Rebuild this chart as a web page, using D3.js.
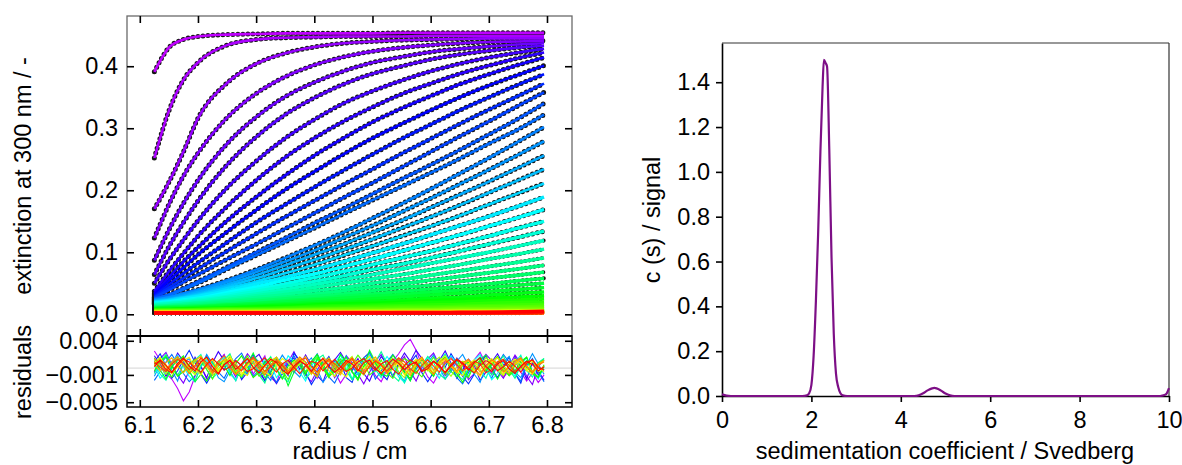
<!DOCTYPE html>
<html>
<head>
<meta charset="utf-8">
<script src="https://cdn.jsdelivr.net/npm/d3@7"></script>
<style>
  body { margin: 0; background: #fff; }
  text { font-family: "Liberation Sans", Arial, sans-serif; }
</style>
</head>
<body>
<script>
// radial positions of the tabulated scan values (cm)
const radius = [6.125, 6.15, 6.175, 6.2, 6.25, 6.3, 6.35, 6.4, 6.45, 6.5, 6.55, 6.6, 6.65, 6.7, 6.75, 6.795];

// extinction at 300 nm, one row per scan (first scan on top)
const scans = [
  [0.391,0.430,0.443,0.448,0.451,0.452,0.453,0.453,0.453,0.453,0.454,0.454,0.454,0.454,0.454,0.454],
  [0.252,0.328,0.378,0.406,0.434,0.443,0.446,0.447,0.448,0.448,0.448,0.449,0.449,0.449,0.449,0.449],
  [0.170,0.213,0.262,0.316,0.373,0.404,0.421,0.431,0.437,0.440,0.442,0.443,0.444,0.445,0.445,0.445],
  [0.123,0.177,0.223,0.260,0.317,0.356,0.383,0.402,0.415,0.424,0.430,0.434,0.437,0.439,0.440,0.441],
  [0.087,0.136,0.179,0.216,0.275,0.318,0.351,0.374,0.392,0.406,0.415,0.423,0.428,0.432,0.435,0.437],
  [0.064,0.109,0.148,0.183,0.241,0.286,0.322,0.349,0.371,0.388,0.400,0.411,0.419,0.425,0.430,0.433],
  [0.050,0.087,0.120,0.151,0.204,0.247,0.284,0.314,0.340,0.360,0.377,0.392,0.404,0.414,0.422,0.428],
  [0.037,0.069,0.098,0.126,0.174,0.216,0.253,0.284,0.311,0.334,0.355,0.372,0.388,0.401,0.413,0.422],
  [0.034,0.060,0.085,0.108,0.151,0.189,0.224,0.256,0.284,0.310,0.332,0.352,0.371,0.387,0.402,0.414],
  [0.032,0.054,0.075,0.096,0.133,0.168,0.201,0.230,0.258,0.284,0.307,0.329,0.350,0.369,0.386,0.401],
  [0.030,0.048,0.066,0.083,0.116,0.148,0.177,0.205,0.232,0.258,0.283,0.306,0.329,0.350,0.370,0.387],
  [0.028,0.043,0.058,0.073,0.102,0.130,0.157,0.183,0.209,0.234,0.259,0.283,0.307,0.330,0.352,0.372],
  [0.027,0.039,0.052,0.064,0.089,0.113,0.138,0.163,0.188,0.212,0.237,0.262,0.287,0.311,0.336,0.358],
  [0.026,0.032,0.042,0.053,0.076,0.100,0.123,0.147,0.170,0.194,0.218,0.241,0.265,0.290,0.315,0.340],
  [0.025,0.031,0.040,0.050,0.073,0.095,0.117,0.139,0.162,0.184,0.206,0.228,0.251,0.275,0.298,0.322],
  [0.024,0.028,0.034,0.040,0.055,0.072,0.091,0.111,0.132,0.155,0.178,0.202,0.227,0.252,0.278,0.302],
  [0.023,0.027,0.032,0.038,0.052,0.068,0.085,0.103,0.123,0.143,0.165,0.187,0.210,0.233,0.257,0.279],
  [0.022,0.025,0.030,0.036,0.048,0.063,0.079,0.096,0.113,0.132,0.151,0.172,0.193,0.214,0.236,0.256],
  [0.021,0.024,0.028,0.033,0.045,0.058,0.073,0.088,0.104,0.121,0.139,0.157,0.176,0.196,0.216,0.234],
  [0.020,0.023,0.027,0.031,0.042,0.053,0.066,0.080,0.095,0.110,0.126,0.142,0.159,0.177,0.195,0.211],
  [0.019,0.021,0.025,0.029,0.038,0.049,0.060,0.072,0.085,0.099,0.113,0.128,0.143,0.158,0.174,0.189],
  [0.018,0.020,0.023,0.026,0.035,0.044,0.055,0.065,0.077,0.089,0.102,0.115,0.128,0.142,0.156,0.169],
  [0.017,0.019,0.022,0.025,0.032,0.040,0.049,0.059,0.069,0.080,0.091,0.102,0.114,0.126,0.139,0.150],
  [0.016,0.018,0.020,0.023,0.029,0.037,0.045,0.053,0.062,0.072,0.081,0.091,0.102,0.113,0.124,0.134],
  [0.015,0.017,0.019,0.021,0.027,0.033,0.040,0.048,0.056,0.064,0.073,0.082,0.091,0.100,0.110,0.119],
  [0.014,0.015,0.017,0.019,0.024,0.030,0.036,0.043,0.050,0.057,0.064,0.072,0.080,0.089,0.097,0.105],
  [0.013,0.014,0.016,0.018,0.022,0.027,0.032,0.038,0.043,0.050,0.056,0.063,0.070,0.077,0.084,0.091],
  [0.012,0.013,0.014,0.016,0.020,0.024,0.028,0.033,0.038,0.044,0.049,0.055,0.061,0.067,0.073,0.079],
  [0.011,0.012,0.013,0.014,0.017,0.021,0.025,0.029,0.033,0.038,0.043,0.047,0.053,0.058,0.063,0.068],
  [0.010,0.011,0.012,0.013,0.015,0.018,0.022,0.025,0.029,0.033,0.037,0.041,0.045,0.049,0.054,0.058],
  [0.010,0.011,0.011,0.012,0.015,0.017,0.020,0.023,0.026,0.029,0.032,0.036,0.039,0.043,0.047,0.050],
  [0.009,0.010,0.010,0.011,0.013,0.015,0.017,0.020,0.022,0.025,0.028,0.031,0.034,0.037,0.040,0.043],
  [0.008,0.008,0.009,0.010,0.011,0.013,0.015,0.017,0.019,0.021,0.023,0.026,0.028,0.031,0.034,0.036],
  [0.008,0.008,0.009,0.009,0.010,0.012,0.013,0.015,0.017,0.018,0.020,0.022,0.024,0.026,0.028,0.030],
  [0.007,0.007,0.008,0.008,0.009,0.010,0.011,0.013,0.014,0.015,0.017,0.019,0.020,0.022,0.023,0.025],
  [0.007,0.007,0.007,0.008,0.009,0.009,0.010,0.011,0.012,0.013,0.014,0.015,0.016,0.018,0.019,0.020],
  [0.006,0.006,0.006,0.007,0.007,0.008,0.008,0.009,0.010,0.011,0.012,0.012,0.013,0.014,0.015,0.016],
  [0.006,0.006,0.006,0.006,0.007,0.007,0.008,0.008,0.009,0.009,0.010,0.010,0.011,0.012,0.012,0.013],
  [0.005,0.005,0.005,0.005,0.006,0.006,0.006,0.007,0.007,0.007,0.008,0.008,0.009,0.009,0.010,0.010],
  [0.005,0.005,0.005,0.005,0.005,0.005,0.006,0.006,0.006,0.006,0.007,0.007,0.007,0.007,0.008,0.008],
  [0.004,0.004,0.004,0.004,0.004,0.005,0.005,0.005,0.005,0.005,0.005,0.005,0.006,0.006,0.006,0.006],
  [0.004,0.004,0.004,0.004,0.004,0.004,0.004,0.004,0.004,0.005,0.005,0.005,0.005,0.005,0.005,0.005],
  [0.004,0.004,0.004,0.004,0.004,0.004,0.004,0.004,0.004,0.004,0.004,0.004,0.005,0.005,0.005,0.005],
  [0.003,0.003,0.004,0.004,0.004,0.004,0.004,0.004,0.004,0.004,0.004,0.004,0.004,0.004,0.005,0.005],
  [0.003,0.003,0.003,0.003,0.003,0.003,0.003,0.003,0.003,0.003,0.004,0.004,0.004,0.004,0.004,0.004],
  [0.003,0.003,0.003,0.003,0.003,0.003,0.003,0.003,0.003,0.003,0.003,0.003,0.004,0.004,0.004,0.004],
  [0.003,0.003,0.003,0.003,0.003,0.003,0.003,0.003,0.003,0.003,0.003,0.003,0.003,0.003,0.003,0.003],
  [0.003,0.003,0.003,0.003,0.003,0.003,0.003,0.003,0.003,0.003,0.003,0.003,0.003,0.003,0.004,0.004],
  [0.003,0.003,0.003,0.003,0.003,0.003,0.003,0.003,0.003,0.003,0.003,0.003,0.003,0.003,0.003,0.003],
  [0.003,0.003,0.003,0.003,0.003,0.003,0.003,0.003,0.003,0.003,0.003,0.003,0.003,0.003,0.003,0.004],
  [0.002,0.002,0.002,0.002,0.003,0.003,0.003,0.003,0.003,0.003,0.003,0.003,0.003,0.003,0.003,0.003],
  [0.002,0.002,0.002,0.002,0.002,0.002,0.002,0.002,0.003,0.003,0.003,0.003,0.003,0.003,0.003,0.003],
  [0.002,0.002,0.002,0.002,0.002,0.002,0.002,0.002,0.002,0.002,0.003,0.003,0.003,0.003,0.003,0.003],
  [0.002,0.002,0.002,0.002,0.002,0.002,0.002,0.002,0.002,0.002,0.002,0.002,0.003,0.003,0.003,0.003],
  [0.002,0.002,0.002,0.002,0.002,0.002,0.002,0.002,0.002,0.002,0.002,0.002,0.002,0.002,0.003,0.003],
  [0.002,0.002,0.002,0.002,0.002,0.002,0.002,0.002,0.002,0.002,0.002,0.002,0.002,0.002,0.002,0.003],
  [0.002,0.002,0.002,0.002,0.002,0.002,0.002,0.002,0.002,0.002,0.002,0.002,0.002,0.003,0.003,0.004],
  [0.002,0.002,0.002,0.002,0.002,0.002,0.002,0.002,0.002,0.002,0.002,0.002,0.003,0.003,0.004,0.005]
];

// residual sample positions (cm)
const residRadius = [6.125,6.135,6.145,6.155,6.165,6.175,6.185,6.195,6.205,6.215,6.225,6.235,6.245,6.255,6.265,6.275,6.285,6.295,6.305,6.315,6.325,6.335,6.345,6.355,6.365,6.375,6.385,6.395,6.405,6.415,6.425,6.435,6.445,6.455,6.465,6.475,6.485,6.495,6.505,6.515,6.525,6.535,6.545,6.555,6.565,6.575,6.585,6.595,6.605,6.615,6.625,6.635,6.645,6.655,6.665,6.675,6.685,6.695,6.705,6.715,6.725,6.735,6.745,6.755,6.765,6.775,6.785,6.795];

// residuals in units of 0.001, for a selection of scans
const residScan1 = [2.5,1.2,-0.8,-1.6,-3.0,-4.8,-3.5,-1.2,0.8,1.5,-0.4,0.9,2.0,-0.6,-1.8,0.3,1.4,-0.9,0.5,1.8,-1.4,-2.1,0.2,1.1,-0.7,0.6,1.9,-0.3,-1.5,0.8,1.6,-0.5,-2.2,-0.9,0.7,1.3,-0.4,0.9,-1.1,-2.0,-0.2,1.0,2.1,3.4,4.2,2.6,0.4,-1.3,-2.2,-0.6,1.0,1.7,0.3,-1.2,-0.4,1.2,2.3,0.6,-0.8,0.9,-1.4,-0.3,1.1,-0.6,-1.9,-0.7,-2.1,-1.0];
const residScan4 = [-0.6,1.4,2.3,0.5,-1.0,-2.2,-0.4,1.1,0.3,-1.6,-0.9,0.8,1.9,0.2,-1.3,0.6,2.1,1.0,-0.7,-1.8,0.4,1.5,-0.2,0.9,2.4,0.7,-1.0,-2.0,-0.3,1.2,0.5,-1.4,0.2,1.8,0.8,-0.9,-2.3,-0.6,1.0,2.0,0.3,-1.2,0.6,1.7,-0.5,-1.9,0.1,1.3,2.2,0.4,-1.1,-0.2,1.5,0.6,-1.7,-0.8,0.9,2.0,1.1,-0.4,-1.5,0.3,1.9,0.7,-1.2,-2.4,0.2,1.2];
const residScan7 = [1.8,0.6,-1.2,0.4,2.2,1.0,-0.5,1.6,0.2,-1.4,0.8,2.4,1.1,-0.3,0.9,-1.7,-0.6,1.3,2.0,0.4,-1.0,-2.3,-0.8,0.7,1.5,-0.2,1.9,0.5,-1.1,-2.0,0.3,1.2,2.3,0.9,-0.4,1.4,-0.8,-1.9,0.1,1.7,0.6,-1.3,0.8,2.2,1.0,2.6,1.4,0.2,-0.9,1.1,2.5,0.7,-1.5,-0.3,1.3,0.4,-1.8,-0.6,0.9,2.1,0.5,-1.0,1.6,0.3,-1.6,0.8,-0.4,-1.8];
const residScan12 = [0.9,2.1,0.3,-1.5,-0.4,1.2,2.6,0.8,-0.9,-2.2,-0.7,1.0,-0.3,1.8,0.4,-1.6,0.6,2.0,-0.1,-1.9,-0.5,1.3,0.2,-1.1,2.2,1.1,-0.6,-2.4,-1.0,0.5,1.7,-0.2,0.9,-1.4,-2.1,0.3,1.5,2.3,0.6,-0.8,-1.7,0.4,1.2,-0.5,0.8,1.9,-0.7,-2.0,-0.6,1.4,0.1,2.1,0.7,-1.2,-2.3,-0.9,0.6,1.8,-0.1,-1.4,0.3,1.6,-0.8,-2.2,0.5,1.3,-1.0,-0.2];
const residScan15 = [-1.8,-0.5,0.9,2.0,0.6,-0.8,-2.0,-1.1,0.4,1.7,0.9,-0.6,-1.5,0.2,1.4,2.2,0.5,-1.2,-0.3,1.0,-0.7,-2.1,-0.9,0.6,1.8,0.3,-1.0,0.8,2.1,0.4,-1.3,-2.2,-0.5,1.1,0.2,-0.9,1.5,0.7,-1.6,-0.4,0.9,2.0,0.8,-0.6,-1.8,-0.2,1.2,0.4,-1.1,0.6,1.9,0.3,-1.4,-2.3,-0.7,0.8,1.6,-0.1,-1.5,0.5,2.0,0.9,-0.8,-1.9,0.3,1.4,-0.6,-2.0];
const residScan17 = [-1.2,0.5,1.6,-0.3,-1.9,0.8,1.4,-0.6,0.2,2.0,0.6,-1.4,-2.0,-0.4,1.1,0.3,-1.0,1.7,0.9,-0.7,-1.8,0.4,1.9,0.7,-0.5,-1.3,0.6,1.5,-0.2,-2.1,-0.8,1.0,0.2,1.8,-0.6,-1.5,0.9,2.2,0.5,-1.1,-0.3,1.4,-0.9,-1.9,0.7,1.2,-0.4,0.8,1.9,0.1,-1.6,-0.5,1.0,2.0,0.4,-0.9,-2.1,0.2,1.3,-0.3,0.9,1.7,-0.6,-1.4,0.5,2.1,0.6,-0.9];
const residScan22 = [0.4,-1.5,-0.6,1.0,1.9,0.2,-1.2,-2.0,0.3,1.1,-0.4,0.8,1.6,-0.9,-1.7,0.5,1.3,0.1,-0.8,1.5,0.6,-1.4,-0.2,1.8,0.9,-0.6,-1.9,0.4,1.2,0.3,-1.0,0.7,1.9,-0.1,-1.6,-0.7,0.8,1.4,-0.5,0.3,1.7,0.5,-1.3,-2.1,-0.4,1.0,0.2,1.6,-0.3,-1.5,0.6,1.8,0.7,-1.0,-0.4,1.2,2.0,0.1,-1.7,-0.8,0.9,0.3,-1.2,0.6,1.5,-0.5,-1.6,0.2];
const residScan25 = [0.7,-0.9,-1.8,0.1,1.5,0.6,-0.7,1.2,2.0,-0.2,-1.5,-0.6,0.8,-0.4,-1.9,0.3,1.4,0.9,-0.8,0.5,1.7,-0.1,-1.3,-2.0,0.2,1.0,-0.5,0.7,1.9,0.4,-1.1,-0.3,1.3,0.6,-1.6,-0.8,0.9,1.8,-0.2,-1.4,0.4,1.2,-0.6,-2.2,-0.4,0.8,1.5,0.2,-1.2,0.9,2.1,0.5,-0.9,-1.7,0.1,1.1,-0.3,-1.5,0.6,1.6,0.2,-1.0,0.8,1.9,-0.4,-1.3,0.5,1.4];
const residScan27 = [-0.8,1.0,2.0,0.3,-1.1,0.6,-0.5,-1.8,0.2,1.4,0.8,-0.7,1.2,2.1,-0.2,-1.4,-0.3,0.9,-1.0,-2.2,0.1,1.6,0.5,-0.9,1.1,0.4,-1.5,-0.6,1.3,1.9,0.2,-1.2,0.7,-0.4,-1.7,0.5,1.5,-0.1,0.9,2.4,0.6,-1.1,-1.9,0.3,1.0,-0.6,0.4,1.7,0.8,-0.9,-1.6,0.2,1.3,-0.3,-1.2,0.7,1.6,0.1,-1.0,0.5,1.8,-0.2,-1.5,0.4,1.1,-0.7,0.8,1.4];
const residScan32 = [1.5,-0.3,-1.6,0.2,1.1,1.8,-0.4,-2.0,-0.9,0.7,1.3,-0.5,0.4,1.6,-0.8,-1.3,0.6,2.2,0.3,-1.4,-0.7,1.0,-0.2,-2.6,-0.6,1.2,0.5,-0.9,1.4,0.7,-1.1,-0.3,2.0,0.8,-0.6,-1.5,0.3,2.6,0.9,-0.8,-1.2,0.5,1.1,-0.4,-1.9,0.2,1.3,0.6,-1.0,0.8,1.7,-0.5,-1.3,0.4,0.9,-0.7,1.2,1.9,-0.2,-1.6,0.1,1.0,-0.6,0.7,1.6,-0.8,-1.4,0.3];
const residScan35 = [-0.4,0.9,1.7,0.3,-1.2,-0.5,0.6,1.3,-0.8,-1.9,-0.3,1.0,0.4,-1.1,0.7,1.8,0.2,-1.4,-0.6,0.9,1.5,-0.2,-1.6,0.3,1.2,0.5,-0.9,1.0,2.0,0.1,-1.3,-0.4,0.8,1.6,-0.5,-1.8,0.2,1.1,0.6,-1.0,0.4,1.9,0.8,-0.7,-1.5,0.3,1.3,-0.2,-1.2,0.7,1.6,0.4,-0.8,-2.1,-0.3,0.9,1.4,-0.4,0.5,1.7,0.2,-1.1,-0.4,1.0,1.6,-0.6,-1.3,0.5];
const residScan37 = [0.6,1.4,-0.4,-1.3,0.5,1.7,0.2,-0.8,1.0,-0.2,-1.6,0.3,1.2,0.8,-0.7,0.4,1.8,0.1,-1.2,-0.5,0.9,1.5,-0.3,-1.7,0.2,1.1,-0.6,0.7,1.6,-0.1,-1.4,0.5,1.3,-0.4,0.6,1.9,0.8,-1.0,-0.3,1.2,-0.7,-1.5,0.4,1.4,0.9,-0.5,-1.3,0.3,1.6,0.2,-0.9,0.6,1.3,-0.6,-1.4,0.5,1.1,-0.2,0.8,1.7,-0.3,-1.1,0.4,1.5,0.1,-0.8,0.7,1.2];
const residScan42 = [1.1,0.2,-0.9,0.6,1.5,0.4,-0.6,1.0,1.8,0.3,-1.1,-0.2,0.9,1.4,-0.4,-1.2,0.5,1.2,0.7,-0.8,0.3,1.6,0.4,-0.9,-0.1,1.3,0.8,-0.5,-1.3,0.6,1.5,0.2,-0.7,0.9,1.7,-0.3,-1.0,0.4,1.1,-0.2,0.8,1.4,-0.6,-1.4,0.3,1.2,0.5,-0.4,0.9,1.6,-0.1,-1.2,0.2,1.0,0.6,-0.7,0.4,1.5,0.9,-0.3,-1.1,0.5,1.3,-0.2,0.7,1.1,-0.5,0.3];
const residScan45 = [0.8,1.6,0.2,-0.8,0.5,1.3,-0.2,-1.0,0.7,1.5,0.4,-0.6,1.1,1.8,0.2,-0.9,0.3,1.2,0.6,-0.5,-1.2,0.4,1.4,0.8,-0.3,0.6,1.7,0.1,-0.8,0.2,1.3,0.7,-0.6,-1.3,0.5,1.1,-0.1,0.9,1.6,0.3,-0.7,-0.2,1.0,0.5,-0.9,0.7,1.5,0.2,-0.6,1.1,1.8,0.4,-0.5,-1.1,0.6,1.2,-0.3,0.8,1.4,0.1,-0.9,0.5,1.3,0.6,-0.4,1.0,0.2,-0.6];
const residScan47 = [0.3,1.3,0.5,-0.7,0.2,1.1,1.6,-0.1,-1.0,0.6,1.2,-0.3,0.4,1.5,0.7,-0.6,-1.1,0.5,1.0,0.1,1.4,0.6,-0.8,-0.2,0.9,1.6,0.3,-0.9,0.5,1.2,-0.4,-1.2,0.2,1.1,0.6,-0.5,0.8,1.7,0.4,-0.7,-0.1,1.0,0.5,-1.0,0.3,1.3,0.9,-0.2,-0.9,0.6,1.4,0.2,-0.6,0.7,1.1,-0.4,-1.2,0.1,0.9,1.5,0.3,-0.5,0.6,1.2,-0.3,-0.9,0.4,1.0];
const residScan50 = [0.5,-0.4,0.8,1.5,0.3,-0.7,0.4,1.2,1.7,0.2,-0.8,0.6,1.3,-0.1,-0.9,0.5,1.4,0.8,-0.2,0.3,1.1,1.6,0.1,-0.6,0.7,1.3,0.4,-0.8,0.2,1.5,0.9,-0.3,-1.0,0.6,1.2,0.3,-0.5,0.8,1.6,0.5,-0.4,0.3,1.0,-0.2,-1.1,0.4,1.3,0.7,-0.3,0.9,1.4,0.2,-0.7,0.5,1.1,0.6,-0.6,0.1,1.2,0.8,-0.2,-0.8,0.7,1.3,0.3,-0.5,0.6,1.1];
const residScan52 = [1.4,0.6,-0.3,0.9,1.7,0.4,-0.8,0.2,1.3,0.5,-0.6,1.0,1.8,0.3,-0.9,-0.2,0.8,1.4,0.1,-1.0,0.5,1.2,0.7,-0.4,0.3,1.6,0.9,-0.5,-1.1,0.4,1.1,0.2,-0.7,0.8,1.5,0.6,-0.6,0.1,1.2,0.4,-0.8,0.6,1.4,0.3,-0.5,0.9,1.6,0.2,-0.9,0.3,1.1,0.5,-0.4,0.8,1.3,-0.1,-1.0,0.4,1.2,0.6,-0.6,0.2,1.0,1.5,0.3,-0.7,0.5,0.9];
const residScan55 = [0.9,0.1,-0.5,0.6,1.3,0.7,-0.2,0.4,1.5,0.8,-0.3,-0.9,0.5,1.2,0.3,-0.4,0.8,1.6,0.6,-0.5,0.2,1.0,0.4,-0.7,-0.1,1.1,1.5,0.2,-0.6,0.5,1.3,0.6,-0.3,0.7,1.4,-0.2,-0.9,0.3,1.0,0.5,-0.5,0.6,1.5,0.9,-0.1,-0.8,0.4,1.2,0.3,-0.6,0.7,1.4,0.5,-0.4,0.2,1.0,0.6,-0.7,-0.2,0.9,1.3,0.4,-0.5,0.1,0.9,1.2,0.2,-0.3];
const residScan57 = [0.6,1.0,-0.2,-0.7,0.4,1.3,0.9,0.0,-0.6,0.5,1.4,0.6,-0.3,0.2,1.1,0.4,-0.5,-0.1,0.8,1.5,0.3,-0.6,0.6,1.2,0.1,-0.8,0.3,1.0,0.7,-0.4,0.5,1.3,0.2,-0.5,0.0,0.9,1.4,0.5,-0.3,0.6,1.1,-0.2,-0.9,0.4,1.2,0.6,-0.4,0.3,1.0,0.2,-0.6,0.5,1.3,0.8,-0.1,-0.7,0.4,1.1,0.6,-0.4,0.2,1.0,0.3,-0.6,0.7,1.2,0.0,-0.2];
const residScan58 = [0.2,1.2,0.4,-0.6,0.7,1.5,0.3,-0.4,0.9,1.6,0.2,-0.8,0.5,1.1,-0.2,0.6,1.4,0.1,-0.7,0.4,1.3,0.8,-0.3,-0.9,0.3,1.0,0.5,-0.5,0.7,1.4,0.2,-0.6,0.1,1.1,0.6,-0.4,0.8,1.2,-0.1,-0.8,0.4,1.3,0.7,-0.2,0.5,0.9,-0.5,-0.1,1.0,0.4,-0.7,0.3,1.2,0.6,-0.3,0.8,1.5,0.2,-0.5,0.6,1.1,-0.1,-0.8,0.3,1.0,0.5,-0.4,0.2];
// scan number (1-based) of each residual trace, drawn in this order
const residScanNo = [1, 4, 7, 12, 15, 17, 22, 25, 27, 32, 35, 37, 42, 45, 47, 50, 52, 55, 57, 58];
const residuals = [residScan1, residScan4, residScan7, residScan12, residScan15, residScan17, residScan22,
  residScan25, residScan27, residScan32, residScan35, residScan37, residScan42, residScan45, residScan47,
  residScan50, residScan52, residScan55, residScan57, residScan58];

// c(s) distribution
const sedCoef = [0, 0.1, 0.2, 1.8, 1.9, 1.95, 2.0, 2.05, 2.1, 2.15, 2.2, 2.25, 2.28, 2.32, 2.35, 2.4, 2.45, 2.5, 2.55, 2.6, 2.65, 2.7, 2.8,
  4.3, 4.4, 4.5, 4.6, 4.7, 4.75, 4.8, 4.9, 5.0, 5.1, 5.2, 9.8, 9.9, 9.95, 10];
const cs = [0.008, 0.002, 0, 0, 0.003, 0.012, 0.05, 0.18, 0.42, 0.72, 1.08, 1.38, 1.50, 1.485, 1.47, 1.10, 0.62, 0.28, 0.10, 0.04, 0.012, 0.003, 0,
  0, 0.003, 0.012, 0.025, 0.034, 0.036, 0.034, 0.024, 0.011, 0.003, 0, 0, 0.004, 0.012, 0.035];

const radiusTicks = [6.1, 6.2, 6.3, 6.4, 6.5, 6.6, 6.7, 6.8];
const extTicks = [0, 0.1, 0.2, 0.3, 0.4];
const residTicks = [4, -1, -5];
const sTicks = [0, 2, 4, 6, 8, 10];
const csTicks = [0, 0.2, 0.4, 0.6, 0.8, 1.0, 1.2, 1.4];

const FONT = 23.5;
const FAMILY = '"Liberation Sans", Arial, sans-serif';
const svg = d3.select("body").append("svg").attr("width", 1182).attr("height", 465);

// ---------- left: scans + residuals ----------
const x = d3.scaleLinear().domain([6.078, 6.843]).range([127, 572]);
const y = d3.scaleLinear().domain([-0.035, 0.481]).range([336, 16]);
const yRes = d3.scaleLinear().domain([-5.7, 4.7]).range([407, 336]);
const nScans = scans.length;
const scanColor = k => d3.hsl(285 - 285 * k / (nScans - 1), 1, 0.5).formatHex();

svg.append("clipPath").attr("id", "clipMain")
  .append("rect").attr("x", 127).attr("y", 16).attr("width", 445).attr("height", 320);
svg.append("clipPath").attr("id", "clipRes")
  .append("rect").attr("x", 127).attr("y", 336).attr("width", 445).attr("height", 71);

const scanLine = d3.line()
  .x((d, i) => x(radius[i]))
  .y(d => y(d))
  .curve(d3.curveMonotoneX);

const mainG = svg.append("g").attr("clip-path", "url(#clipMain)");
// data points (black) first, fits on top; the crowded late scans get wider fits
mainG.append("g").selectAll("path").data(scans).join("path")
  .attr("d", scanLine)
  .attr("fill", "none")
  .attr("stroke", "#151515")
  .attr("stroke-width", (d, i) => i < 24 ? 5 : 4.2)
  .attr("stroke-linecap", "round")
  .attr("stroke-dasharray", (d, i) => i < 24 ? "0 5" : "0 4.2");
mainG.append("g").selectAll("path").data(scans).join("path")
  .attr("d", scanLine)
  .attr("fill", "none")
  .attr("stroke", (d, i) => scanColor(i))
  .attr("stroke-width", (d, i) => i < 20 ? 2.6 : 3.4);

// residuals
const resG = svg.append("g").attr("clip-path", "url(#clipRes)");
resG.append("line")
  .attr("x1", 127).attr("x2", 572).attr("y1", yRes(0)).attr("y2", yRes(0))
  .attr("stroke", "#d4d4d4").attr("stroke-width", 1);
const resLine = d3.line()
  .defined((d, i) => residRadius[i] !== undefined)
  .x((d, i) => x(residRadius[i]))
  .y(d => yRes(d));
resG.selectAll("path.res").data(residuals).join("path")
  .attr("class", "res")
  .attr("d", resLine)
  .attr("fill", "none")
  .attr("stroke", (d, i) => scanColor(residScanNo[i] - 1))
  .attr("stroke-width", 1.1);

function styleAxis(g) {
  g.select(".domain").remove();
  g.selectAll(".tick line").attr("stroke", "#000").attr("stroke-width", 1.6);
  g.selectAll(".tick text").attr("font-size", FONT).attr("fill", "#000").attr("font-family", FAMILY);
}

// frames
svg.append("rect").attr("x", 127).attr("y", 16).attr("width", 445).attr("height", 320)
  .attr("fill", "none").attr("stroke", "#6a6a6a").attr("stroke-width", 1.3);
svg.append("rect").attr("x", 127).attr("y", 336).attr("width", 445).attr("height", 71)
  .attr("fill", "none").attr("stroke", "#000").attr("stroke-width", 1.5);
svg.append("line").attr("x1", 127).attr("x2", 572).attr("y1", 336).attr("y2", 336)
  .attr("stroke", "#000").attr("stroke-width", 2);

svg.append("g").attr("transform", "translate(0,16)")
  .call(d3.axisTop(x).tickValues(radiusTicks).tickSize(-7).tickFormat("")).call(styleAxis);
svg.append("g").attr("transform", "translate(0,336)")
  .call(d3.axisBottom(x).tickValues(radiusTicks).tickSize(-7).tickFormat("")).call(styleAxis);
svg.append("g").attr("transform", "translate(0,336)")
  .call(d3.axisTop(x).tickValues(radiusTicks).tickSize(-7).tickFormat("")).call(styleAxis);
svg.append("g").attr("transform", "translate(0,407)")
  .call(d3.axisBottom(x).tickValues(radiusTicks).tickSize(-7).tickPadding(9).tickFormat(d3.format(".1f")))
  .call(styleAxis);
svg.append("g").attr("transform", "translate(127,0)")
  .call(d3.axisLeft(y).tickValues(extTicks).tickSize(-7).tickPadding(9).tickFormat(d3.format(".1f")))
  .call(styleAxis);
svg.append("g").attr("transform", "translate(572,0)")
  .call(d3.axisRight(y).tickValues(extTicks).tickSize(-7).tickFormat("")).call(styleAxis);
svg.append("g").attr("transform", "translate(127,0)")
  .call(d3.axisLeft(yRes).tickValues(residTicks).tickSize(-7).tickPadding(9)
    .tickFormat(d => d3.format(".3f")(d / 1000)))
  .call(styleAxis);
svg.append("g").attr("transform", "translate(572,0)")
  .call(d3.axisRight(yRes).tickValues(residTicks).tickSize(-7).tickFormat("")).call(styleAxis);

svg.append("text").attr("transform", "translate(31,176) rotate(-90)")
  .attr("text-anchor", "middle").attr("font-size", FONT).text("extinction at 300 nm / -");
svg.append("text").attr("transform", "translate(31,372) rotate(-90)")
  .attr("text-anchor", "middle").attr("font-size", FONT).text("residuals");
svg.append("text").attr("x", 350).attr("y", 459)
  .attr("text-anchor", "middle").attr("font-size", FONT).text("radius / cm");

// ---------- right: c(s) ----------
const xs = d3.scaleLinear().domain([0, 10]).range([722, 1169]);
const ys = d3.scaleLinear().domain([0, 1.575]).range([396, 43]);

svg.append("line").attr("x1", 722).attr("x2", 1169).attr("y1", 43).attr("y2", 43)
  .attr("stroke", "#333").attr("stroke-width", 1.2);
svg.append("line").attr("x1", 1169).attr("x2", 1169).attr("y1", 43).attr("y2", 396)
  .attr("stroke", "#333").attr("stroke-width", 1.2);

const gx = svg.append("g").attr("transform", "translate(0,396)")
  .call(d3.axisBottom(xs).tickValues(sTicks).tickSize(6).tickPadding(9).tickSizeOuter(0));
gx.select(".domain").attr("stroke", "#000").attr("stroke-width", 1.6);
gx.selectAll(".tick line").attr("stroke", "#000").attr("stroke-width", 1.6);
gx.selectAll(".tick text").attr("font-size", FONT).attr("font-family", FAMILY);

const gy = svg.append("g").attr("transform", "translate(722,0)")
  .call(d3.axisLeft(ys).tickValues(csTicks).tickSize(6).tickPadding(6).tickSizeOuter(0)
    .tickFormat(d3.format(".1f")));
gy.select(".domain").attr("stroke", "#000").attr("stroke-width", 1.6);
gy.selectAll(".tick line").attr("stroke", "#000").attr("stroke-width", 1.6);
gy.selectAll(".tick text").attr("font-size", FONT).attr("font-family", FAMILY);

svg.append("path")
  .datum(cs)
  .attr("d", d3.line().x((d, i) => xs(sedCoef[i])).y(d => ys(d)).curve(d3.curveMonotoneX))
  .attr("fill", "none")
  .attr("stroke", "#7d0f86")
  .attr("stroke-width", 2.2);

svg.append("text").attr("transform", "translate(660,220) rotate(-90)")
  .attr("text-anchor", "middle").attr("font-size", FONT).text("c (s) / signal");
svg.append("text").attr("x", 945).attr("y", 459)
  .attr("text-anchor", "middle").attr("font-size", FONT).text("sedimentation coefficient / Svedberg");
</script>
</body>
</html>
